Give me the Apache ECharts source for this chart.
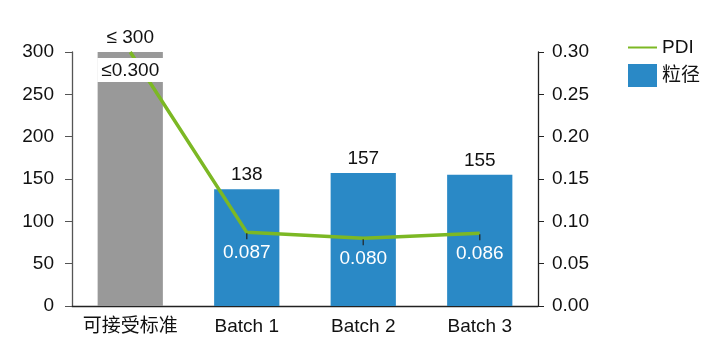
<!DOCTYPE html>
<html><head><meta charset="utf-8">
<script src="https://cdn.jsdelivr.net/npm/echarts@6/dist/echarts.min.js"></script>
<style>html,body{margin:0;padding:0;background:#fff}#c{width:720px;height:361px}</style>
</head><body><div id="c"></div>
<script>
const categories = ['可接受标准', 'Batch 1', 'Batch 2', 'Batch 3'];
const sizeValues = [300, 138, 157, 155];
const sizeLabels = ['≤ 300', '138', '157', '155'];
const pdiValues = [0.300, 0.087, 0.080, 0.086];
const pdiLabels = ['≤0.300', '0.087', '0.080', '0.086'];
const leftTicks = [0, 300, 50];
const rightTicks = [0, 0.30, 0.05];

const FONT = '"Liberation Sans", Arial, "Noto Sans CJK SC", sans-serif';
const FS = 19;
const BLUE = '#2a89c6', GRAY = '#999999', GREEN = '#7cb824';

const chart = echarts.init(document.getElementById('c'));
chart.setOption({
  animation: false,
  textStyle: { fontFamily: FONT },
  grid: { left: 72, right: 182, top: 52, bottom: 55 },
  legend: {
    orient: 'vertical', left: 622, top: 33, itemWidth: 29, itemHeight: 23, itemGap: 7,
    textStyle: { fontSize: FS, color: '#111', fontFamily: FONT },
    data: [
      { name: 'PDI', itemStyle: { opacity: 0 } },
      { name: '粒径', icon: 'rect', itemStyle: { color: BLUE } }
    ]
  },
  xAxis: {
    type: 'category', data: categories,
    axisLine: { lineStyle: { color: '#222', width: 1.3 } },
    axisTick: { show: false },
    axisLabel: { interval: 0, fontSize: FS, color: '#111', margin: 11, fontFamily: FONT }
  },
  yAxis: [{
    type: 'value', min: leftTicks[0], max: leftTicks[1], interval: leftTicks[2],
    splitLine: { show: false },
    axisLine: { show: true, lineStyle: { color: '#555', width: 1.3 } },
    axisTick: { show: true, length: 7, lineStyle: { color: '#555' } },
    axisLabel: { fontSize: FS, color: '#111', margin: 18, fontFamily: FONT }
  }, {
    type: 'value', min: rightTicks[0], max: rightTicks[1], interval: rightTicks[2],
    splitLine: { show: false },
    axisLine: { show: true, lineStyle: { color: '#222', width: 1.3 } },
    axisTick: { show: true, length: 6, lineStyle: { color: '#222' } },
    axisLabel: { fontSize: FS, color: '#111', margin: 14, fontFamily: FONT,
      formatter: v => v.toFixed(2) }
  }],
  series: [{
    name: '粒径', type: 'bar', barWidth: '56%', z: 1,
    itemStyle: { color: BLUE },
    data: sizeValues.map((v, i) => ({
      value: v,
      itemStyle: i === 0 ? { color: GRAY } : undefined,
      label: { show: true, position: 'top', distance: 5, fontSize: FS, color: '#111',
        fontFamily: FONT, formatter: sizeLabels[i] }
    }))
  }, {
    name: 'PDI', type: 'line', yAxisIndex: 1, symbol: 'circle', symbolSize: 0.1,
    showSymbol: true, z: 3,
    lineStyle: { color: GREEN, width: 3.5 }, itemStyle: { color: GREEN },
    data: pdiValues.map((v, i) => ({
      value: v,
      label: i === 0 ? {
        show: true, position: 'bottom', distance: 6, fontSize: FS, color: '#111',
        backgroundColor: '#fff', padding: [3, 0, 2, 0], width: 66, align: 'center',
        fontFamily: FONT, formatter: pdiLabels[i]
      } : {
        show: true, position: 'bottom', distance: 11, fontSize: FS, color: '#fff',
        fontFamily: FONT, formatter: pdiLabels[i]
      }
    }))
  }, {
    name: 'tick', type: 'scatter', yAxisIndex: 1, z: 4, silent: true,
    symbol: 'rect', symbolSize: [1.5, 6], symbolOffset: [0, 4],
    itemStyle: { color: '#222' },
    data: pdiValues.map((v, i) => i === 0 ? null : v)
  }]
});
</script></body></html>
